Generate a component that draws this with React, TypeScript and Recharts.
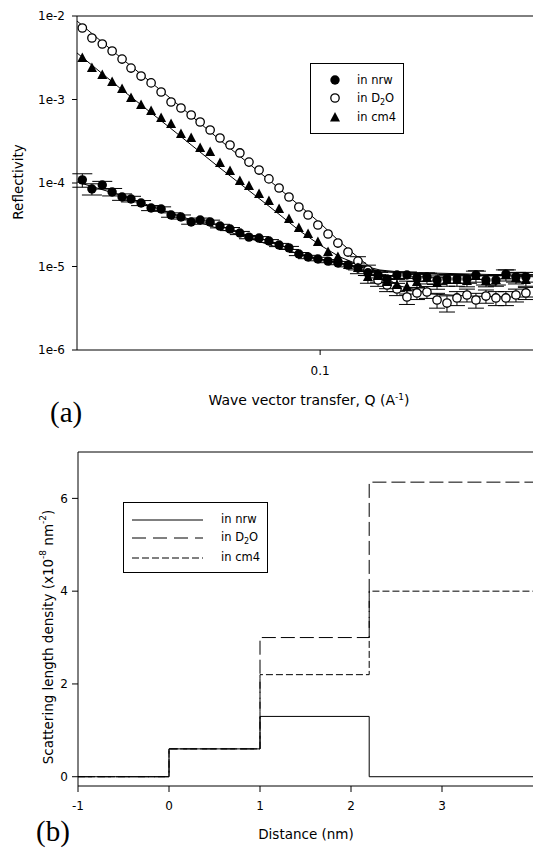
import React from 'react';
import {
    ScatterChart, Scatter, ErrorBar, XAxis, YAxis, ReferenceLine,
    LineChart, Line,
} from 'recharts';

// (a) reflectivity data, all three series measured on the same Q grid
const qValues = [0.0308, 0.0323, 0.0340, 0.0357, 0.0375, 0.0392, 0.0412, 0.0433, 0.0455, 0.0478,
    0.0502, 0.0528, 0.0552, 0.0580, 0.0609, 0.0640, 0.0672, 0.0703, 0.0739, 0.0776,
    0.0816, 0.0857, 0.0900, 0.0942, 0.0989, 0.1040, 0.1092, 0.1148, 0.1206, 0.1267,
    0.1332, 0.1393, 0.1463, 0.1537, 0.1615, 0.1697, 0.1784, 0.1874, 0.1969, 0.2069,
    0.2163, 0.2273, 0.2388, 0.2509, 0.2637, 0.2770];

const nrwR = [1.09e-4, 8.48e-5, 9.46e-5, 7.80e-5, 6.80e-5, 6.43e-5, 5.76e-5, 5.02e-5, 4.88e-5, 4.14e-5,
    3.92e-5, 3.41e-5, 3.60e-5, 3.41e-5, 3.05e-5, 2.81e-5, 2.52e-5, 2.25e-5, 2.19e-5, 2.02e-5,
    1.81e-5, 1.67e-5, 1.41e-5, 1.30e-5, 1.23e-5, 1.16e-5, 1.10e-5, 1.04e-5, 9.6e-6, 8.4e-6,
    7.9e-6, 7.1e-6, 7.9e-6, 7.9e-6, 7.3e-6, 7.5e-6, 6.9e-6, 7.1e-6, 7.1e-6, 7.1e-6,
    7.9e-6, 6.9e-6, 6.9e-6, 8.1e-6, 7.5e-6, 7.5e-6];
const nrwErr = [2.0e-5, 1.3e-5, 1.0e-5, 8e-6, 6e-6, 5e-6, 4e-6, 3.5e-6, 3e-6, 2.5e-6,
    2.2e-6, 2e-6, 2e-6, 1.8e-6, 1.5e-6, 1.2e-6, 1.1e-6, 1.0e-6, 0.9e-6, 0.8e-6,
    0.8e-6, 0.7e-6, 0.6e-6, 0.6e-6, 0.6e-6, 0.5e-6, 0.5e-6, 0.5e-6, 0.5e-6, 0.6e-6,
    0.6e-6, 0.7e-6, 0.7e-6, 0.7e-6, 0.7e-6, 0.8e-6, 0.8e-6, 0.8e-6, 0.8e-6, 0.8e-6,
    0.9e-6, 0.9e-6, 0.9e-6, 1.0e-6, 1.0e-6, 1.0e-6];

const d2oR = [7.18e-3, 5.45e-3, 4.62e-3, 3.81e-3, 3.05e-3, 2.38e-3, 1.91e-3, 1.58e-3, 1.23e-3, 9.34e-4,
    7.91e-4, 6.52e-4, 5.38e-4, 4.31e-4, 3.46e-4, 2.85e-4, 2.29e-4, 1.78e-4, 1.43e-4, 1.12e-4,
    8.71e-5, 6.80e-5, 5.16e-5, 4.14e-5, 3.14e-5, 2.45e-5, 1.91e-5, 1.49e-5, 1.16e-5, 9.08e-6,
    6.89e-6, 6.00e-6, 5.38e-6, 4.31e-6, 4.82e-6, 4.95e-6, 3.97e-6, 3.65e-6, 4.20e-6, 4.56e-6,
    3.97e-6, 4.43e-6, 4.20e-6, 4.20e-6, 4.56e-6, 4.82e-6];
const d2oErr = [0, 0, 0, 0, 0, 0, 0, 0, 0, 0,
    0, 0, 0, 0, 0, 0, 0, 0, 0, 0,
    0, 0, 0, 0, 0, 0, 0, 0, 1.5e-6, 1.3e-6,
    1.1e-6, 1.0e-6, 0.9e-6, 0.8e-6, 0.8e-6, 0.8e-6, 0.8e-6, 0.8e-6, 0.8e-6, 0.8e-6,
    0.8e-6, 0.8e-6, 0.8e-6, 0.8e-6, 0.8e-6, 0.8e-6];

const cm4R = [3.14e-3, 2.38e-3, 1.97e-3, 1.62e-3, 1.34e-3, 1.04e-3, 8.59e-4, 7.28e-4, 6.00e-4, 5.09e-4,
    3.86e-4, 3.46e-4, 2.62e-4, 2.35e-4, 1.74e-4, 1.39e-4, 1.06e-4, 9.21e-5, 7.38e-5, 6.09e-5,
    4.88e-5, 3.71e-5, 2.89e-5, 2.45e-5, 1.97e-5, 1.49e-5, 1.30e-5, 1.04e-5, 9.6e-6, 7.5e-6,
    7.69e-6, 6.52e-6, 6.00e-6, 5.68e-6, 6.52e-6, 7.28e-6, 6.34e-6, 6.9e-6, 6.9e-6, 6.71e-6,
    7.69e-6, 6.71e-6, 6.9e-6, 7.9e-6, 7.28e-6, 6.9e-6];
const cm4Err = [0, 0, 0, 0, 0, 0, 0, 0, 0, 0,
    0, 0, 0, 0, 0, 0, 0, 0, 0, 0,
    0, 0, 0, 0, 0, 0, 0, 0, 1.4e-6, 1.2e-6,
    1.2e-6, 1.1e-6, 1.0e-6, 1.0e-6, 1.0e-6, 1.1e-6, 1.0e-6, 1.1e-6, 1.1e-6, 1.0e-6,
    1.2e-6, 1.0e-6, 1.1e-6, 1.2e-6, 1.1e-6, 1.1e-6];

// fitted model curves
const fitQ = [0.0300, 0.0371, 0.0476, 0.0609, 0.0780, 0.0905, 0.0999, 0.1103, 0.1218, 0.1345, 0.1485, 0.1723, 0.2100, 0.2560, 0.3000];
const fitNrw = [1.03e-4, 7.18e-5, 4.37e-5, 2.81e-5, 1.81e-5, 1.41e-5, 1.23e-5, 1.10e-5, 9.86e-6, 8.83e-6, 8.36e-6, 8.13e-6, 7.91e-6, 7.69e-6, 7.48e-6];
const fitD2o = [8.71e-3, 3.23e-3, 1.04e-3, 3.27e-4, 1.06e-4, 5.30e-5, 3.32e-5, 1.97e-5, 1.23e-5, 7.91e-6, 5.84e-6, 4.69e-6, 4.43e-6, 4.31e-6, 4.31e-6];
const fitCm4 = [3.61e-3, 1.37e-3, 4.56e-4, 1.51e-4, 5.16e-5, 2.66e-5, 1.81e-5, 1.30e-5, 1.04e-5, 9.08e-6, 8.59e-6, 8.36e-6, 8.13e-6, 7.91e-6, 7.69e-6];

const qTicks = [0.1];
const qTickLabels = ['0.1'];
const rTicks = [1e-6, 1e-5, 1e-4, 1e-3, 1e-2];
const rTickLabels = ['1e-6', '1e-5', '1e-4', '1e-3', '1e-2'];

// (b) SLD profiles
const distance = [-1, 0, 1, 2.2, 4];
const nrwSld = [0, 0.6, 1.3, 0, 0];
const d2oSld = [0, 0.6, 3.0, 6.35, 6.35];
const cm4Sld = [0, 0.6, 2.2, 4.0, 4.0];
const distTicks = [-1, 0, 1, 2, 3];
const sldTicks = [0, 2, 4, 6];

const seriesRows = (r: number[], err: number[]) => qValues.map((q, i) => ({q, r: r[i], err: err[i]}));
const errRows = (r: number[], err: number[]) => seriesRows(r, err).filter((d) => d.err > 0);
const fitRows = (r: number[]) => fitQ.map((q, i) => ({q, r: r[i]}));
const profileRows = distance.map((x, i) => ({x, nrw: nrwSld[i], d2o: d2oSld[i], cm4: cm4Sld[i]}));

const FONT = '"DejaVu Sans", Arial, sans-serif';
const tickStyle = {fill: '#000', fontSize: 12, fontFamily: FONT};

const FilledCircle = (p: any) => <circle cx={p.cx} cy={p.cy} r={4.7} fill="#000"/>;
const OpenCircle = (p: any) => <circle cx={p.cx} cy={p.cy} r={4.2} fill="#fff" stroke="#000" strokeWidth={1.3}/>;
const Triangle = (p: any) => (
    <path d={`M${p.cx},${p.cy - 5.5}L${p.cx + 5},${p.cy + 4}L${p.cx - 5},${p.cy + 4}Z`} fill="#000"/>
);
const NoDot = () => <g/>;

const QTitle = () => (
    <text x={309} y={405} textAnchor="middle" fontSize={14} fontFamily={FONT} fill="#000">
        Wave vector transfer, Q (A<tspan dy={-5} fontSize={9}>-1</tspan><tspan dy={5}>)</tspan>
    </text>
);
const RTitle = () => (
    <text x={18} y={182} transform="rotate(-90 18 182)" textAnchor="middle" dominantBaseline="central"
          fontSize={13.5} fontFamily={FONT} fill="#000">Reflectivity</text>
);
const DistTitle = () => (
    <text x={306} y={399} textAnchor="middle" fontSize={13.5} fontFamily={FONT} fill="#000">Distance (nm)</text>
);
const SldTitle = () => (
    <text x={48} y={197} transform="rotate(-90 48 197)" textAnchor="middle" dominantBaseline="central"
          fontSize={13.5} fontFamily={FONT} fill="#000">
        Scattering length density (x10<tspan dy={-5} fontSize={9}>-8</tspan>
        <tspan dy={5}> nm</tspan><tspan dy={-5} fontSize={9}>-2</tspan><tspan dy={5}>)</tspan>
    </text>
);

const legendText: React.CSSProperties = {position: 'absolute', fontSize: 11.5, fontFamily: FONT, lineHeight: '14px', whiteSpace: 'nowrap'};
const D2O = () => <>in D<span style={{fontSize: 8, position: 'relative', top: 3}}>2</span>O</>;
const panelLetter: React.CSSProperties = {position: 'absolute', fontFamily: '"Liberation Serif", "Times New Roman", serif', fontSize: 29, lineHeight: '32px'};

const App: React.FC = () => {
    return (
        <div style={{position: 'absolute', left: 0, top: 0, width: 533, height: 848, overflow: 'hidden', background: '#fff'}}>
            <div style={{position: 'absolute', left: 0, top: 0}}>
                <ScatterChart width={545} height={430} margin={{top: 16, right: 3, bottom: 0, left: 0}}>
                    <XAxis type="number" dataKey="q" scale="log" domain={[0.03, 0.3]} allowDataOverflow
                           ticks={qTicks} tickFormatter={(v: number) => qTickLabels[qTicks.indexOf(v)] ?? ''}
                           height={80} tickSize={5} tickMargin={11} tick={tickStyle}
                           axisLine={{stroke: '#000'}} tickLine={{stroke: '#000'}} label={<QTitle/>}/>
                    <YAxis type="number" dataKey="r" scale="log" domain={[1e-6, 1e-2]} allowDataOverflow
                           ticks={rTicks} tickFormatter={(v: number) => rTickLabels[rTicks.indexOf(v)] ?? ''}
                           width={77} tickSize={5} tickMargin={7} tick={tickStyle}
                           axisLine={{stroke: '#000'}} tickLine={{stroke: '#000'}} label={<RTitle/>}/>
                    <ReferenceLine y={1e-2} stroke="#000"/>
                    <Scatter data={fitRows(fitNrw)} line={{stroke: '#000', strokeWidth: 1}} shape={NoDot} isAnimationActive={false}/>
                    <Scatter data={fitRows(fitD2o)} line={{stroke: '#000', strokeWidth: 1}} shape={NoDot} isAnimationActive={false}/>
                    <Scatter data={fitRows(fitCm4)} line={{stroke: '#000', strokeWidth: 1}} shape={NoDot} isAnimationActive={false}/>
                    <Scatter data={errRows(d2oR, d2oErr)} shape={NoDot} isAnimationActive={false}>
                        <ErrorBar dataKey="err" direction="y" width={8} stroke="#000" strokeWidth={1}/>
                    </Scatter>
                    <Scatter data={errRows(cm4R, cm4Err)} shape={NoDot} isAnimationActive={false}>
                        <ErrorBar dataKey="err" direction="y" width={8} stroke="#000" strokeWidth={1}/>
                    </Scatter>
                    <Scatter data={errRows(nrwR, nrwErr)} shape={NoDot} isAnimationActive={false}>
                        <ErrorBar dataKey="err" direction="y" width={10} stroke="#000" strokeWidth={1}/>
                    </Scatter>
                    <Scatter data={seriesRows(d2oR, d2oErr)} shape={OpenCircle} isAnimationActive={false}/>
                    <Scatter data={seriesRows(cm4R, cm4Err)} shape={Triangle} isAnimationActive={false}/>
                    <Scatter data={seriesRows(nrwR, nrwErr)} shape={FilledCircle} isAnimationActive={false}/>
                </ScatterChart>
            </div>

            <div style={{position: 'absolute', left: 310, top: 63, width: 92, height: 69, border: '1px solid #000', background: '#fff'}}>
                <svg width={12} height={12} style={{position: 'absolute', left: 18, top: 10}}><FilledCircle cx={6} cy={6}/></svg>
                <svg width={12} height={12} style={{position: 'absolute', left: 18, top: 28}}><OpenCircle cx={6} cy={6}/></svg>
                <svg width={12} height={12} style={{position: 'absolute', left: 18, top: 47}}><Triangle cx={6} cy={6.5}/></svg>
                <span style={{...legendText, left: 46, top: 9}}>in nrw</span>
                <span style={{...legendText, left: 46, top: 27}}><D2O/></span>
                <span style={{...legendText, left: 46, top: 46}}>in cm4</span>
            </div>

            <div style={{position: 'absolute', left: 0, top: 440}}>
                <LineChart width={533} height={408} data={profileRows} margin={{top: 12, right: 0, bottom: 0, left: 0}}>
                    <XAxis type="number" dataKey="x" domain={[-1, 4]} allowDataOverflow ticks={distTicks}
                           height={62} tickSize={6} tickMargin={9} tick={tickStyle}
                           axisLine={{stroke: '#000'}} tickLine={{stroke: '#000'}} label={<DistTitle/>}/>
                    <YAxis type="number" domain={[-0.2, 7]} allowDataOverflow ticks={sldTicks}
                           width={78} tickSize={6} tickMargin={4} tick={tickStyle}
                           axisLine={{stroke: '#000'}} tickLine={{stroke: '#000'}} label={<SldTitle/>}/>
                    <ReferenceLine y={7} stroke="#000"/>
                    <Line type="stepAfter" dataKey="d2o" stroke="#000" strokeWidth={1} strokeDasharray="14 5" dot={false} isAnimationActive={false}/>
                    <Line type="stepAfter" dataKey="cm4" stroke="#000" strokeWidth={1} strokeDasharray="7 3" dot={false} isAnimationActive={false}/>
                    <Line type="stepAfter" dataKey="nrw" stroke="#000" strokeWidth={1} dot={false} isAnimationActive={false}/>
                </LineChart>
            </div>

            <div style={{position: 'absolute', left: 123, top: 502, width: 143, height: 69, border: '1px solid #000', background: '#fff'}}>
                <svg width={75} height={60} style={{position: 'absolute', left: 8, top: 8}}>
                    <line x1={0} x2={71} y1={9} y2={9} stroke="#000"/>
                    <line x1={0} x2={71} y1={27} y2={27} stroke="#000" strokeDasharray="14 7"/>
                    <line x1={0} x2={71} y1={47} y2={47} stroke="#000" strokeDasharray="7 3"/>
                </svg>
                <span style={{...legendText, left: 97, top: 9}}>in nrw</span>
                <span style={{...legendText, left: 97, top: 27}}><D2O/></span>
                <span style={{...legendText, left: 97, top: 47}}>in cm4</span>
            </div>

            <div style={{...panelLetter, left: 50, top: 396}}>(a)</div>
            <div style={{...panelLetter, left: 36, top: 815}}>(b)</div>
        </div>
    );
};

export default App;
